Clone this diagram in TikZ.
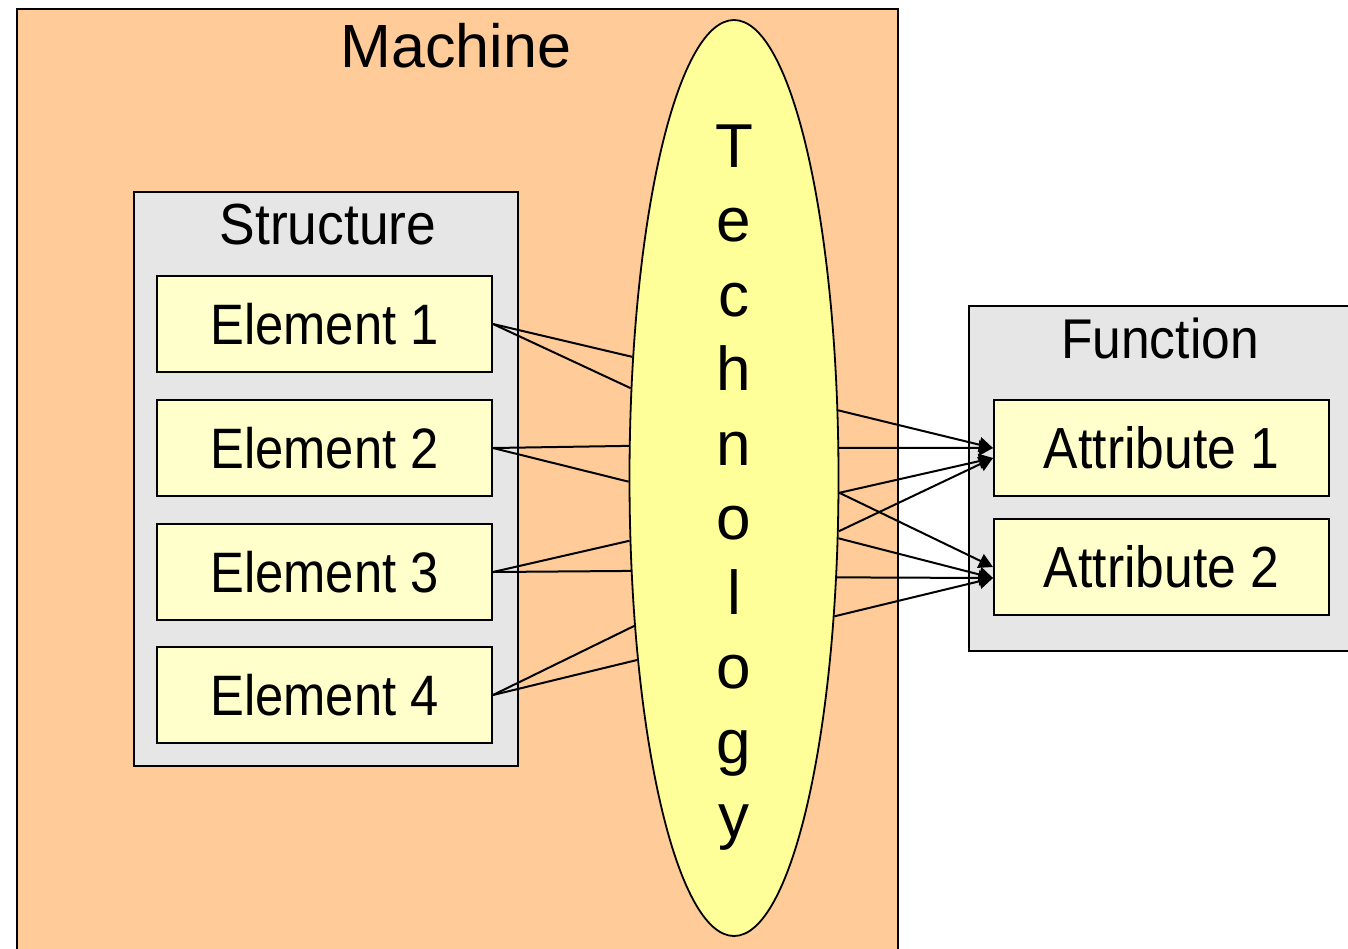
\documentclass[tikz,border=0pt]{standalone}
\usepackage{fontspec}
\setmainfont{Liberation Sans}
\newfontfamily\narrowA[FakeStretch=0.89]{Liberation Sans}
\newfontfamily\narrowB[FakeStretch=0.92]{Liberation Sans}
\usetikzlibrary{shapes.geometric,arrows.meta}
\definecolor{machinefill}{HTML}{FFCC99}
\definecolor{groupfill}{HTML}{E6E6E6}
\definecolor{itemfill}{HTML}{FFFFCC}
\definecolor{techfill}{HTML}{FFFF99}
\begin{document}
\begin{tikzpicture}[x=1pt,y=-1pt,
  box/.style={draw=black,line width=2pt,inner sep=0pt,anchor=north west},
  groupbox/.style={box,fill=groupfill},
  itembox/.style={box,fill=itemfill,minimum width=335pt,minimum height=96pt,
    font=\narrowA\fontsize{57}{68}\selectfont},
  title/.style={anchor=base,inner sep=0pt},
  link/.style={line width=2pt},
  arrowlink/.style={link,-{Triangle[length=14pt,width=15pt]}},
]
\clip (0,0) rectangle (1348,948);

% outer machine frame (runs past the lower edge)
\node[box,fill=machinefill,minimum width=881pt,minimum height=980pt] (machine) at (16,8) {};
\node[title,font=\fontsize{61}{72}\selectfont] (machinelabel) at (456,67) {Machine};

% technology ellipse
\node[ellipse,draw=black,line width=1.8pt,fill=techfill,inner sep=0pt,
  minimum width=209pt,minimum height=916pt] (tech) at (734,478) {};
\node[title,font=\fontsize{62}{74.5}\selectfont,text width=60pt,align=center] (techlabel)
  at (734,167) {T\\e\\c\\h\\n\\o\\l\\o\\g\\y};

% structure group
\node[groupbox,minimum width=384pt,minimum height=574pt] (structure) at (133,191) {};
\node[title,font=\narrowB\fontsize{58}{68}\selectfont] (structurelabel) at (328,244) {Structure};
\node[itembox] (e1) at (156,275) {Element 1};
\node[itembox] (e2) at (156,399) {Element 2};
\node[itembox] (e3) at (156,523) {Element 3};
\node[itembox] (e4) at (156,646) {Element 4};

% function group
\node[groupbox,minimum width=420pt,minimum height=345pt] (function) at (968,305) {};
\node[title,font=\narrowB\fontsize{56}{66}\selectfont] (functionlabel) at (1160,358) {Function};
\node[itembox,font=\narrowA\fontsize{58}{68}\selectfont] (a1) at (993,399) {Attribute 1};
\node[itembox,font=\narrowA\fontsize{58}{68}\selectfont] (a2) at (993,518) {Attribute 2};

% elements into technology
\draw[link] (e1.east) -- (tech.130.09);
\draw[link] (e1.east) -- (tech.139.54);
\draw[link] (e2.east) -- (tech.163.4);
\draw[link] (e2.east) -- (tech.182.75);
\draw[link] (e3.east) -- (tech.211.05);
\draw[link] (e3.east) -- (tech.222.97);
\draw[link] (e4.east) -- (tech.236.49);
\draw[link] (e4.east) -- (tech.242.19);

% technology onto attributes
\draw[arrowlink] (tech.33.8) -- (a1.west);
\draw[arrowlink] (tech.16.75) -- (a1.west);
\draw[arrowlink] (tech.352.4) -- ([yshift=-10pt]a1.west);
\draw[arrowlink] (tech.333.66) -- ([yshift=-10pt]a1.west);
\draw[arrowlink] (tech.352.4) -- (a2.west);
\draw[arrowlink] (tech.330.0) -- ([yshift=-11pt]a2.west);
\draw[arrowlink] (tech.316.7) -- ([yshift=-11pt]a2.west);
\draw[arrowlink] (tech.306.8) -- ([yshift=-11pt]a2.west);
\end{tikzpicture}
\end{document}
